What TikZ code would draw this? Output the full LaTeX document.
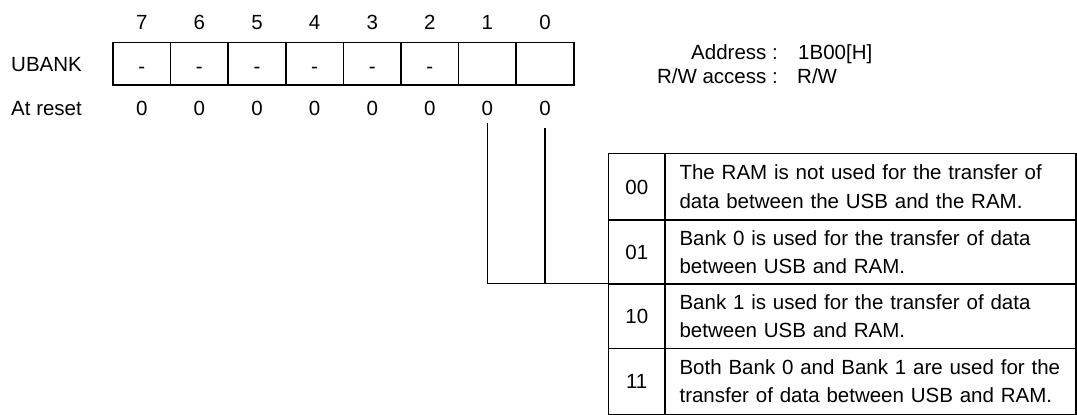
\documentclass[tikz,border=0pt]{standalone}
\usepackage{fontspec}
\setmainfont{Liberation Sans}
\begin{document}
\begin{tikzpicture}[x=1pt,y=-1pt,
  every node/.style={font=\fontsize{20.5}{28.4}\selectfont, inner sep=0pt},
  oneline/.style={text height=14.7pt, text depth=0pt},
  bitcell/.style={draw, line width=1.5pt, minimum width=57.6pt, minimum height=42.3pt},
  codecell/.style={draw, line width=1.5pt, minimum width=56.6pt, anchor=north west, oneline},
  desccell/.style={draw, line width=1.5pt, minimum width=410.7pt, anchor=north west, text width=382pt, align=left, inner xsep=14.5pt},
  conn/.style={line width=1.2pt}]
\useasboundingbox (0,0) rectangle (1077,415);
% bit numbers, register cells and reset values
\foreach \b [count=\i from 0] in {7,6,5,4,3,2,1,0} {
  \node[oneline] (n\b) at ({141.8+57.6*\i},22) {\b};
  \node[oneline] (z\b) at ({141.8+57.6*\i},108.5) {0};
  \node[bitcell] (c\b) at ({141.8+57.6*\i},63.85) {};
}
\foreach \b in {7,6,5,4,3,2} {
  \node[oneline] (h\b) at ([yshift=-2pt]c\b.center) {-};
}
\node[anchor=west, oneline] (lbl) at (11,64.5) {UBANK};
\node[anchor=west, oneline] (rst) at (11,108.5) {At reset};
% address info
\node[anchor=east, oneline] (addrk) at (778,52) {Address :};
\node[anchor=west, oneline] (addrv) at (798,52) {1B00[H]};
\node[anchor=east, oneline] (rwk) at (778,76) {R/W access :};
\node[anchor=west, oneline] (rwv) at (797,76) {R/W};
% table
\node[codecell, minimum height=66.6pt] (k00) at (607.7,152.7) {00};
\node[desccell, minimum height=66.6pt] (d00) at (664.3,152.7) {The RAM is not used for the transfer of\\data between the USB and the RAM.};
\node[codecell, minimum height=64pt] (k01) at (607.7,219.3) {01};
\node[desccell, minimum height=64pt] (d01) at (664.3,219.3) {Bank 0 is used for the transfer of data\\between USB and RAM.};
\node[codecell, minimum height=64.4pt] (k10) at (607.7,283.3) {10};
\node[desccell, minimum height=64.4pt] (d10) at (664.3,283.3) {Bank 1 is used for the transfer of data\\between USB and RAM.};
\node[codecell, minimum height=65.8pt] (k11) at (607.7,347.7) {11};
\node[desccell, minimum height=65.8pt] (d11) at (664.3,347.7) {Both Bank 0 and Bank 1 are used for the\\transfer of data between USB and RAM.};
% connectors
\coordinate (j) at (k10.north west);
\coordinate (s1) at ([yshift=-14.5pt]z1.center);
\coordinate (s0) at ([yshift=-19pt]z0.center);
\draw[conn] (s1) |- (j);
\draw[conn] (s0) -- (s0 |- j);
\end{tikzpicture}
\end{document}
